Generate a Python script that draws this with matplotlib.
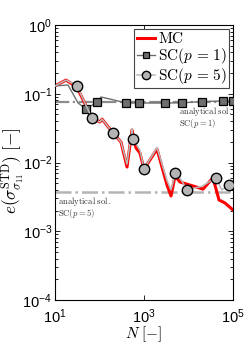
import matplotlib
matplotlib.use('Agg')
import matplotlib.pyplot as plt
from matplotlib.ticker import LogLocator, NullLocator, NullFormatter

plt.rcParams['font.family'] = ['Liberation Sans', 'DejaVu Sans']
plt.rcParams['mathtext.fontset'] = 'cm'

# MC
n_mc = [10, 17.7, 31, 68, 102, 114, 201, 304, 415, 537, 661, 812, 1000,
        1960, 3290, 4050, 4980, 6440, 10800, 21200, 35500, 48500, 66000, 100000]
e_mc = [0.130, 0.158, 0.125, 0.0444, 0.0388, 0.0428, 0.0269, 0.0199, 0.0086,
        0.0297, 0.0163, 0.0137, 0.0080, 0.0157, 0.0047, 0.00326, 0.00637,
        0.0052, 0.0047, 0.0041, 0.0060, 0.00285, 0.00258, 0.00204]

# SC p=1
n_sc1 = [10, 19.6, 33, 50, 88, 108, 172, 394, 777, 2950, 7100, 20000, 60000, 100000]
e_sc1 = [0.130, 0.134, 0.0734, 0.060, 0.0757, 0.0897, 0.0838, 0.0734, 0.0734,
         0.0734, 0.0738, 0.077, 0.0785, 0.0785]
mark_sc1 = [3, 4, 7, 8, 9, 10, 11, 12, 13]

# SC p=5
n_sc5 = [10, 17.7, 31, 68, 102, 114, 201, 304, 415, 537, 575, 812, 1000,
         1960, 3290, 4050, 5100, 6440, 9300, 20000, 41000, 56000, 80000]
e_sc5 = [0.130, 0.158, 0.130, 0.044, 0.0388, 0.0428, 0.027, 0.020, 0.0095,
         0.031, 0.0218, 0.015, 0.008, 0.0165, 0.0055, 0.0040, 0.0070, 0.006,
         0.0040, 0.0045, 0.0060, 0.0040, 0.0047]
mark_sc5 = [2, 3, 6, 10, 12, 16, 18, 20, 22]

# analytical solutions
e_an1 = 0.077
e_an5 = 0.00377

fig = plt.figure(figsize=(2.45, 3.45), dpi=100)
ax = fig.add_axes([0.2245, 0.1304, 0.7265, 0.7971])

ax.axhline(e_an1, color='#8c8c8c', lw=1.6, ls='-.', zorder=1)
ax.axhline(e_an5, color='#b4b4b4', lw=1.8, ls='-.', zorder=1)

ax.plot(n_mc, e_mc, color='#ff0000', lw=2.2, label=r'$\mathrm{MC}$', zorder=2)
ax.plot(n_sc1, e_sc1, color='#6e6e6e', lw=1.0, marker='s', markevery=mark_sc1,
        ms=6, mfc='#6e6e6e', mec='black', mew=0.9,
        label=r'$\mathrm{SC}(p\,=\,1)$', zorder=3)
ax.plot(n_sc5, e_sc5, color='#b9b9b9', lw=1.1, marker='o', markevery=mark_sc5,
        ms=7.5, mfc='#b4b4b4', mec='black', mew=1.0,
        label=r'$\mathrm{SC}(p\,=\,5)$', zorder=4)

ax.text(6100, 0.069, r'$\mathrm{analytical\ sol.}$' + '\n' + r'$\mathrm{SC}(p=1)$',
        fontsize=6.2, va='top', ha='left', color='#333333', linespacing=0.95)
ax.text(11.7, 0.0034, r'$\mathrm{analytical\ sol.}$' + '\n' + r'$\mathrm{SC}(p=5)$',
        fontsize=6.2, va='top', ha='left', color='#333333', linespacing=0.95)

ax.set_xscale('log')
ax.set_yscale('log')
ax.set_xlim(10, 1e5)
ax.set_ylim(1e-4, 1e0)
ax.set_xticks([10, 1e3, 1e5])
ax.xaxis.set_minor_locator(NullLocator())
ax.yaxis.set_major_locator(LogLocator(base=10, numticks=10))
ax.yaxis.set_minor_locator(LogLocator(base=10, subs=range(2, 10), numticks=10))
ax.yaxis.set_minor_formatter(NullFormatter())
ax.tick_params(which='both', direction='in', top=True, right=True, labelsize=10.5, width=0.6)
ax.tick_params(which='major', length=3.5, pad=2)
ax.tick_params(axis='x', which='major', pad=5)
ax.tick_params(which='minor', length=2)
for s in ax.spines.values():
    s.set_linewidth(0.8)

ax.set_xlabel(r'$N\ [-]$', fontsize=11, labelpad=-1)
ax.set_ylabel(r'$e(\sigma^{\mathrm{STD}}_{\sigma_{11}})\ [-]$', fontsize=12.5, labelpad=0)
ax.yaxis.set_label_coords(-0.165, 0.47)

leg = ax.legend(loc='upper right', fontsize=11, handlelength=1.2, handletextpad=0.2,
                borderpad=0.15, labelspacing=0.0, borderaxespad=0.25, fancybox=False,
                framealpha=1, edgecolor='#444444', markerscale=0.8)
leg.get_frame().set_linewidth(0.8)

fig.savefig('out.png', dpi=100)
